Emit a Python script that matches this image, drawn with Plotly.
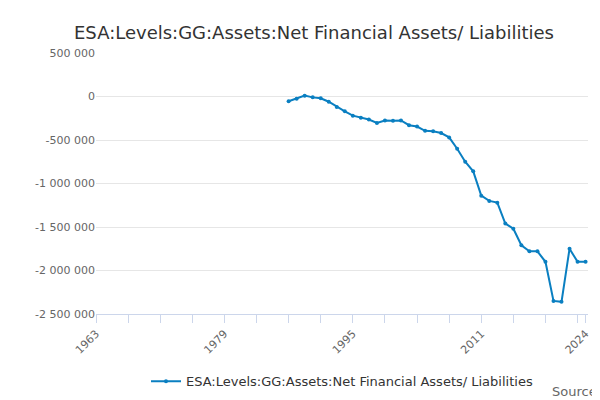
import plotly.graph_objects as go

years = list(range(1987, 2025))
values = [
    -55000, -25000, 10000, -10000, -20000, -60000, -120000, -170000,
    -220000, -245000, -265000, -305000, -275000, -280000, -275000, -330000,
    -345000, -395000, -400000, -420000, -470000, -600000, -750000, -860000,
    -1140000, -1200000, -1220000, -1460000, -1520000, -1710000, -1780000, -1780000,
    -1900000, -2350000, -2360000, -1750000, -1900000, -1900000,
]
x_ticks = [1963, 1979, 1995, 2011, 2024]
y_ticks = [500000, 0, -500000, -1000000, -1500000, -2000000, -2500000]
series_name = "ESA:Levels:GG:Assets:Net Financial Assets/ Liabilities"

fig = go.Figure()
fig.add_trace(go.Scatter(
    x=years, y=values, mode="lines+markers", name=series_name,
    line=dict(color="#0a7fc1", width=2), marker=dict(size=4, color="#0a7fc1"),
))

fig.update_layout(
    width=600, height=400,
    title=dict(text=series_name, x=0.11, y=0.955, font=dict(size=18, color="#333333")),
    font=dict(family="DejaVu Sans", color="#666666", size=11),
    plot_bgcolor="white", paper_bgcolor="white",
    margin=dict(l=88, r=20, t=45, b=80),
    showlegend=True,
    legend=dict(orientation="h", x=0.5, xanchor="center", y=-0.2, yanchor="top",
                font=dict(size=13, color="#333333")),
    xaxis=dict(range=[1963, 2024.3], tickvals=x_ticks, ticktext=[str(t) for t in x_ticks],
               tickangle=-45, showgrid=False, showline=True, linecolor="#ccd6eb",
               ticks="outside", tickcolor="#ccd6eb", ticklen=8,
               minor=dict(dtick=4, tick0=1963, ticks="outside", ticklen=8, tickcolor="#ccd6eb")),
    yaxis=dict(range=[-2500000, 500000], tickvals=y_ticks,
               ticktext=[f"{v:,}".replace(",", " ").replace("-", "-") for v in y_ticks],
               gridcolor="#e6e6e6", zeroline=False, ticks=""),
)
fig.add_annotation(text="Source:", xref="paper", yref="paper", x=1.03, y=-0.26,
                   xanchor="right", yanchor="top", showarrow=False,
                   font=dict(size=13, color="#666666"))

fig.write_html("out.html")
